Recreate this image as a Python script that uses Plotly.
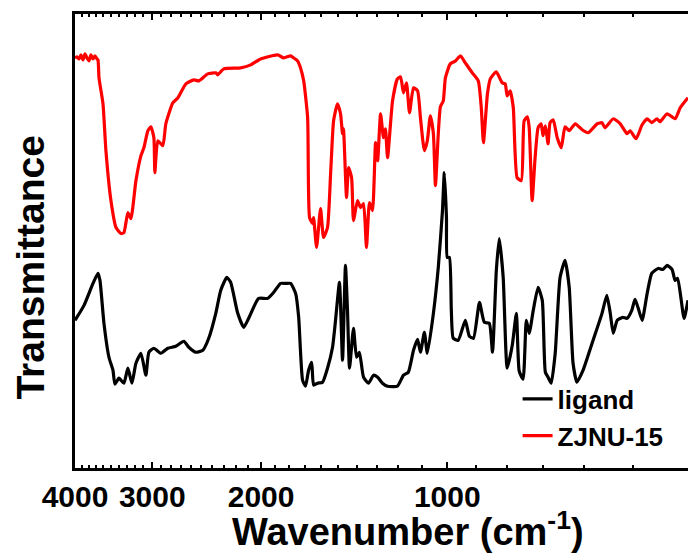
import math
import plotly.graph_objects as go

# ---- data (wavenumber in cm^-1, transmittance in arbitrary units) ----
zjnu_wn = [4000, 3970, 3941, 3912, 3883, 3854, 3825, 3797, 3769, 3741, 3713, 3685, 3672, 3658,
           3604, 3565, 3499, 3434, 3371, 3334, 3285, 3248, 3188, 3129, 3095, 3049, 3015, 2982,
           2971, 2938, 2884, 2852, 2779, 2727, 2647, 2570, 2522, 2440, 2368, 2351, 2299, 2158,
           2079, 2004, 1881, 1839, 1792, 1772, 1746, 1727, 1707, 1682, 1670, 1651, 1645, 1627,
           1603, 1585, 1562, 1544, 1527, 1505, 1488, 1477, 1472, 1455, 1444, 1428, 1418, 1397,
           1381, 1366, 1351, 1336, 1321, 1306, 1296, 1282, 1268, 1259, 1249, 1226, 1204, 1190,
           1177, 1164, 1151, 1134, 1117, 1105, 1089, 1077, 1065, 1053, 1045, 1034, 1026, 1015,
           1007, 989, 970, 952, 935, 911, 891, 881, 874, 861, 852, 833, 815, 806, 800, 791, 782,
           771, 759, 751, 742, 737, 729, 721, 713, 705, 700, 694, 687, 682, 674, 664, 654, 645,
           635, 621, 605, 592, 572, 562, 556, 539, 525, 512, 506, 495, 484, 475, 467, 458, 453,
           441, 428, 420, 408]
zjnu_t = [411, 412, 410, 414, 409, 415, 411, 408, 414, 410, 413, 410, 409, 391,
          365, 318, 268, 241, 235, 236, 256, 250, 288, 313, 321, 338, 342, 331,
          296, 328, 323, 345, 366, 371, 385, 389, 388, 395, 396, 394, 400, 401,
          404, 410, 414, 411, 413, 411, 408, 401, 388, 351, 251, 245, 251, 221,
          260, 231, 241, 295, 348, 365, 355, 335, 340, 271, 301, 291, 248, 268,
          261, 265, 221, 266, 258, 326, 308, 355, 331, 340, 311, 368, 390, 392,
          376, 386, 356, 381, 378, 351, 318, 328, 353, 335, 283, 335, 362, 368,
          391, 405, 408, 413, 406, 396, 388, 361, 326, 375, 390, 397, 386, 385, 373, 378, 361,
          291, 288, 348, 352, 341, 268, 311, 341, 345, 333, 343, 325, 346, 349, 331, 321, 342,
          338, 345, 339, 336, 345, 346, 341, 350, 345, 335, 338, 330, 344, 350, 346, 350, 347,
          355, 350, 361, 371]

ligand_wn = [4000, 3868, 3741, 3672, 3645, 3591, 3525, 3473, 3447, 3396, 3334, 3285, 3236,
             3188, 3129, 3072, 3038, 2982, 2905, 2831, 2748, 2667, 2618, 2551, 2485, 2431,
             2368, 2325, 2273, 2240, 2182, 2134, 2095, 2019, 1952, 1909, 1860, 1825, 1792,
             1759, 1739, 1714, 1695, 1676, 1657, 1645, 1621, 1591, 1562, 1533, 1516, 1494,
             1477, 1461, 1450, 1439, 1418, 1402, 1387, 1366, 1341, 1316, 1296, 1273, 1249,
             1204, 1177, 1156, 1134, 1117, 1105, 1089, 1077, 1053, 1034, 1018, 1011, 1003,
             1000, 992, 985, 978, 960, 935, 921, 907, 887, 871, 855, 845, 833, 824, 812, 800,
             785, 773, 765, 754, 745, 737, 726, 713, 702, 694, 687, 679, 669, 657, 645, 635,
             626, 617, 603, 581, 562, 552, 545, 539, 531, 520, 512, 503, 497, 491, 484, 475,
             467, 456, 448, 441, 433, 428, 424, 414, 408]
ligand_t = [148, 163, 185, 195, 188, 145, 111, 98, 84, 90, 85, 100, 85,
            105, 115, 93, 116, 120, 115, 120, 122, 127, 121, 116, 118, 130,
            155, 178, 191, 186, 155, 141, 150, 170, 170, 176, 185, 185, 185,
            175, 151, 88, 82, 98, 106, 83, 85, 86, 100, 121, 148, 186,
            108, 203, 158, 100, 140, 111, 116, 91, 85, 93, 91, 85, 82,
            82, 93, 96, 118, 129, 116, 136, 115, 155, 201, 258, 296, 251,
            211, 211, 158, 130, 128, 148, 132, 130, 166, 146, 145, 116, 198, 230, 191, 100,
            123, 155, 97, 89, 148, 135, 158, 181, 168, 96, 91, 85, 115, 191, 208, 181,
            105, 86, 98, 128, 155, 173, 155, 135, 148, 151, 150, 158, 169, 160, 148, 175,
            195, 200, 199, 203, 199, 188, 190, 150, 168]

x_ticks = [4000, 3000, 2000, 1000]
x_tick_labels = ["4000", "3000", "2000", "1000"]
x_range = [4000, 408]
minor_ticks = [v for v in range(500, 4000, 100) if v not in x_ticks]

FONT = "Liberation Sans"

fig = go.Figure()
fig.add_trace(go.Scatter(x=ligand_wn, y=ligand_t, mode="lines", name="ligand",
                         line=dict(color="#000000", width=3.2, shape="spline", smoothing=0.5)))
fig.add_trace(go.Scatter(x=zjnu_wn, y=zjnu_t, mode="lines", name="ZJNU-15",
                         line=dict(color="#ff0000", width=3.2, shape="spline", smoothing=0.5)))

fig.update_layout(
    width=688, height=555,
    margin=dict(l=75, r=0, t=14, b=87),
    paper_bgcolor="white", plot_bgcolor="white",
    font=dict(family=FONT, color="black"),
    showlegend=True,
    legend=dict(x=0.722, y=0.204, xanchor="left", yanchor="top",
                bgcolor="rgba(0,0,0,0)",
                font=dict(family=FONT, size=26, weight="bold", color="black"),
                tracegroupgap=0),
    xaxis=dict(type="log", range=[math.log10(x_range[0]), math.log10(x_range[1])],
               tickmode="array", tickvals=x_ticks, ticktext=x_tick_labels,
               ticks="inside", ticklen=6, tickwidth=2, tickcolor="black",
               minor=dict(tickmode="array", tickvals=minor_ticks, ticks="inside",
                          ticklen=3, tickwidth=1.5, tickcolor="black", showgrid=False),
               showline=True, linewidth=3, linecolor="black", mirror="allticks",
               showgrid=False, zeroline=False,
               tickfont=dict(family=FONT, size=30, weight="bold", color="black")),
    yaxis=dict(range=[0, 455], showticklabels=False, ticks="",
               showline=True, linewidth=3, linecolor="black", mirror=False,
               showgrid=False, zeroline=False),
    annotations=[
        dict(text="Wavenumber (cm<sup>-1</sup>)", xref="paper", yref="paper",
             x=0.544, y=-0.076, xanchor="center", yanchor="top", showarrow=False,
             font=dict(family=FONT, size=38, weight="bold", color="black")),
        dict(text="Transmittance", xref="paper", yref="paper", textangle=-90,
             x=-0.073, y=0.442, xanchor="center", yanchor="middle", showarrow=False,
             font=dict(family=FONT, size=39, weight="bold", color="black")),
    ],
)

fig.write_html("out.html", config={"displayModeBar": False},
               post_script="document.body.style.margin='0px';document.body.style.overflow='hidden';")
